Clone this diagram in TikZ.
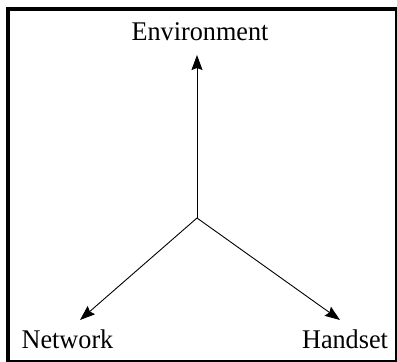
\documentclass[tikz,border=0pt]{standalone}
\usepackage{fontspec}
\setmainfont{Liberation Serif}
\usetikzlibrary{arrows.meta}
\begin{document}
\begin{tikzpicture}[x=1pt,y=-1pt,
  label/.style={inner sep=0pt,anchor=base,font=\fontsize{27}{31}\selectfont,xscale=0.97},
  link/.style={line width=0.9pt,-{Stealth[length=15pt,width=11pt,inset=2pt]}},
  frame/.style={line width=4pt}]
  \useasboundingbox (0,0) rectangle (397,362);
  \clip (0,0) rectangle (397,362);
  % outer frame
  \draw[frame] (8,9) rectangle (397,362);
  % labels
  \node[label] (env) at (200,40) {Environment};
  \node[label] (net) at (67.5,348) {Network};
  \node[label] (hand) at (345,348) {Handset};
  % hub and arrow tips
  \coordinate (hub) at (197,218);
  \coordinate (envtip) at (197,55);
  \coordinate (nettip) at (80,320);
  \coordinate (handtip) at (340,320);
  \draw[link] (hub) -- (envtip);
  \draw[link] (hub) -- (nettip);
  \draw[link] (hub) -- (handtip);
\end{tikzpicture}
\end{document}
